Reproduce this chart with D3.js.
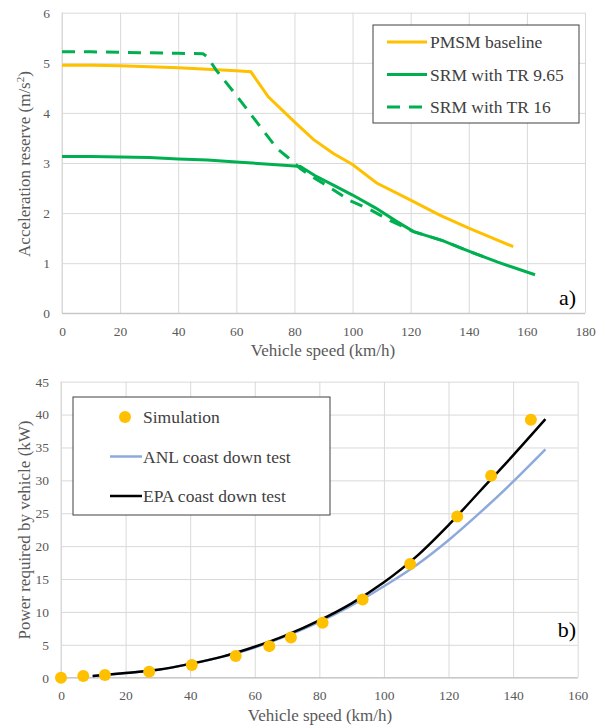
<!DOCTYPE html>
<meta charset="utf-8">
<script src="https://d3js.org/d3.v7.min.js"></script>
<title>Acceleration reserve and power required</title>
<style>
body { margin: 0; background: #fff; }
.grid line { stroke: #d9d9d9; stroke-width: 1; }
.grid path { display: none; }
.tick text { fill: #595959; font-size: 13.5px; }
.title { fill: #595959; font-size: 17px; }
.leg { fill: #404040; font-size: 17.5px; }
</style>
<body>
<svg id="chart" width="606" height="727"></svg>
<script>

// ---- panel a) acceleration reserve ----
var pmsmSpeed = [0, 10, 20, 30, 40, 50, 60, 65, 71, 80, 86.5, 93.4, 100, 108.3, 120, 130, 140, 155.3];
var pmsmAcc   = [4.95, 4.95, 4.94, 4.92, 4.90, 4.87, 4.84, 4.82, 4.32, 3.82, 3.47, 3.19, 2.97, 2.60, 2.26, 1.96, 1.70, 1.33];

var srmSpeed = [0, 10, 20, 30, 40, 50, 60, 70, 80, 82, 87, 93.4, 100, 108, 115, 121, 131, 140, 150, 162.8];
var srmAcc   = [3.13, 3.13, 3.12, 3.11, 3.08, 3.06, 3.02, 2.98, 2.94, 2.93, 2.75, 2.56, 2.36, 2.10, 1.84, 1.63, 1.45, 1.24, 1.02, 0.77];

var tr16Speed = [0, 10, 20, 30, 40, 48.5, 50, 53, 60, 65, 70, 74, 78, 82, 86, 92, 99, 106, 113, 121, 131, 140, 145];
var tr16Acc   = [5.22, 5.22, 5.21, 5.20, 5.19, 5.18, 5.12, 4.86, 4.35, 3.97, 3.59, 3.29, 3.10, 2.89, 2.73, 2.52, 2.25, 2.07, 1.85, 1.63, 1.45, 1.24, 1.13];

// ---- panel b) power required ----
var simSpeed = [0, 6.9, 13.6, 27.3, 40.5, 54.1, 64.5, 71.2, 81.0, 93.4, 108.1, 122.7, 133.2, 145.5];
var simPower = [0, 0.25, 0.4, 0.9, 1.93, 3.3, 4.8, 6.1, 8.36, 11.9, 17.3, 24.5, 30.7, 39.2];

var coastSpeed = [9.8, 20, 30, 40, 50, 60, 70, 80, 90, 100, 110, 120, 130, 140, 150];
var anlPower   = [0.25, 0.7, 1.2, 2.1, 3.2, 4.6, 6.4, 8.5, 11.0, 13.9, 17.1, 20.9, 25.2, 29.8, 34.7];
var epaPower   = [0.25, 0.7, 1.2, 2.1, 3.2, 4.7, 6.5, 8.7, 11.3, 14.5, 18.4, 23.2, 28.5, 33.8, 39.3];

var xTicksA = d3.range(0, 181, 20), yTicksA = d3.range(0, 7, 1);
var xTicksB = d3.range(0, 161, 20), yTicksB = d3.range(0, 46, 5);

var orange = "#ffc000", green = "#00b050", blue = "#8eaadb";
var serif = "'Liberation Serif', 'Times New Roman', serif";

var svg = d3.select("#chart");

function zip(xs, ys) { return xs.map(function(v, i) { return [v, ys[i]]; }); }

function panel(xDom, yDom, box, xTicks, yTicks) {
  var x = d3.scaleLinear().domain(xDom).range([box.left, box.right]);
  var y = d3.scaleLinear().domain(yDom).range([box.bottom, box.top]);
  var h = box.bottom - box.top, w = box.right - box.left;

  svg.append("g").attr("class", "grid")
      .attr("transform", "translate(0," + box.bottom + ")")
      .call(d3.axisBottom(x).tickValues(xTicks).tickSize(-h).tickFormat(""));
  svg.append("g").attr("class", "grid")
      .attr("transform", "translate(" + box.left + ",0)")
      .call(d3.axisLeft(y).tickValues(yTicks).tickSize(-w).tickFormat(""));

  // axis lines
  svg.append("line").attr("x1", box.left).attr("x2", box.right)
      .attr("y1", box.bottom).attr("y2", box.bottom)
      .attr("stroke", "#bfbfbf");
  svg.append("line").attr("x1", box.left).attr("x2", box.left)
      .attr("y1", box.top).attr("y2", box.bottom)
      .attr("stroke", "#d9d9d9");

  var xa = svg.append("g")
      .attr("transform", "translate(0," + box.bottom + ")")
      .call(d3.axisBottom(x).tickValues(xTicks).tickSize(0).tickPadding(13).tickFormat(d3.format("d")));
  xa.select(".domain").remove();
  var ya = svg.append("g")
      .attr("transform", "translate(" + box.left + ",0)")
      .call(d3.axisLeft(y).tickValues(yTicks).tickSize(0).tickPadding(12).tickFormat(d3.format("d")));
  ya.select(".domain").remove();

  return {x: x, y: y};
}

// panel a
var a = panel([0, 180], [0, 6], {left: 62, right: 585, top: 12.7, bottom: 313.3}, xTicksA, yTicksA);
var lineA = d3.line().x(function(d) { return a.x(d[0]); }).y(function(d) { return a.y(d[1]); });

svg.append("path").datum(zip(pmsmSpeed, pmsmAcc))
    .attr("d", lineA).attr("fill", "none").attr("stroke", orange).attr("stroke-width", 3);
svg.append("path").datum(zip(srmSpeed, srmAcc))
    .attr("d", lineA).attr("fill", "none").attr("stroke", green).attr("stroke-width", 3);
svg.append("path").datum(zip(tr16Speed, tr16Acc))
    .attr("d", lineA).attr("fill", "none").attr("stroke", green).attr("stroke-width", 3)
    .attr("stroke-dasharray", "13,9");

svg.append("text").attr("class", "title")
    .attr("x", 323).attr("y", 356).attr("text-anchor", "middle")
    .text("Vehicle speed (km/h)");
var tA = svg.append("text").attr("class", "title")
    .attr("transform", "translate(30,164) rotate(-90)")
    .attr("text-anchor", "middle");
tA.append("tspan").text("Acceleration reserve (m/s");
tA.append("tspan").attr("baseline-shift", "super").attr("font-size", "11px").text("2");
tA.append("tspan").text(")");

svg.append("text").attr("x", 576).attr("y", 305).attr("text-anchor", "end")
    .attr("font-size", "22px").attr("fill", "#000").text("a)");

// legend a
var legA = [
  {label: "PMSM baseline", color: orange, dash: null},
  {label: "SRM with TR 9.65", color: green, dash: null},
  {label: "SRM with TR 16", color: green, dash: "13,9"}
];
svg.append("rect").attr("x", 373).attr("y", 25).attr("width", 206).attr("height", 98)
    .attr("fill", "#fff").attr("stroke", "#404040").attr("stroke-width", 1);
legA.forEach(function(d, i) {
  var yy = 42 + i * 32.5;
  svg.append("line").attr("x1", 387).attr("x2", 427).attr("y1", yy).attr("y2", yy)
      .attr("stroke", d.color).attr("stroke-width", 3)
      .attr("stroke-dasharray", d.dash);
  svg.append("text").attr("class", "leg").attr("x", 430).attr("y", yy + 6).text(d.label);
});

// panel b
var b = panel([0, 160], [0, 45], {left: 61, right: 577.7, top: 381.7, bottom: 677.7}, xTicksB, yTicksB);
var lineB = d3.line().curve(d3.curveMonotoneX)
    .x(function(d) { return b.x(d[0]); }).y(function(d) { return b.y(d[1]); });

svg.append("path").datum(zip(coastSpeed, anlPower))
    .attr("d", lineB).attr("fill", "none").attr("stroke", blue).attr("stroke-width", 2.5);
svg.append("path").datum(zip(coastSpeed, epaPower))
    .attr("d", lineB).attr("fill", "none").attr("stroke", "#000").attr("stroke-width", 2.5);
svg.append("g").selectAll("circle")
    .data(zip(simSpeed, simPower))
  .enter().append("circle")
    .attr("cx", function(d) { return b.x(d[0]); })
    .attr("cy", function(d) { return b.y(d[1]); })
    .attr("r", 6)
    .attr("fill", orange);

svg.append("text").attr("class", "title")
    .attr("x", 320).attr("y", 721).attr("text-anchor", "middle")
    .text("Vehicle speed (km/h)");
svg.append("text").attr("class", "title")
    .attr("transform", "translate(30,530) rotate(-90)")
    .attr("text-anchor", "middle")
    .text("Power required by vehicle (kW)");

svg.append("text").attr("x", 576).attr("y", 637).attr("text-anchor", "end")
    .attr("font-size", "22px").attr("fill", "#000").text("b)");

// legend b
svg.append("rect").attr("x", 73).attr("y", 397).attr("width", 257).attr("height", 118)
    .attr("fill", "#fff").attr("stroke", "#404040").attr("stroke-width", 1);
svg.append("circle").attr("cx", 125).attr("cy", 417).attr("r", 6).attr("fill", orange);
svg.append("text").attr("class", "leg").attr("x", 143).attr("y", 423).text("Simulation");
svg.append("line").attr("x1", 110).attr("x2", 142).attr("y1", 456.5).attr("y2", 456.5)
    .attr("stroke", blue).attr("stroke-width", 2.5);
svg.append("text").attr("class", "leg").attr("x", 143).attr("y", 462.5).text("ANL coast down test");
svg.append("line").attr("x1", 110).attr("x2", 142).attr("y1", 496).attr("y2", 496)
    .attr("stroke", "#000").attr("stroke-width", 2.5);
svg.append("text").attr("class", "leg").attr("x", 143).attr("y", 502).text("EPA coast down test");

// every text in the serif face
svg.selectAll("text").style("font-family", serif);

</script>
</body>
